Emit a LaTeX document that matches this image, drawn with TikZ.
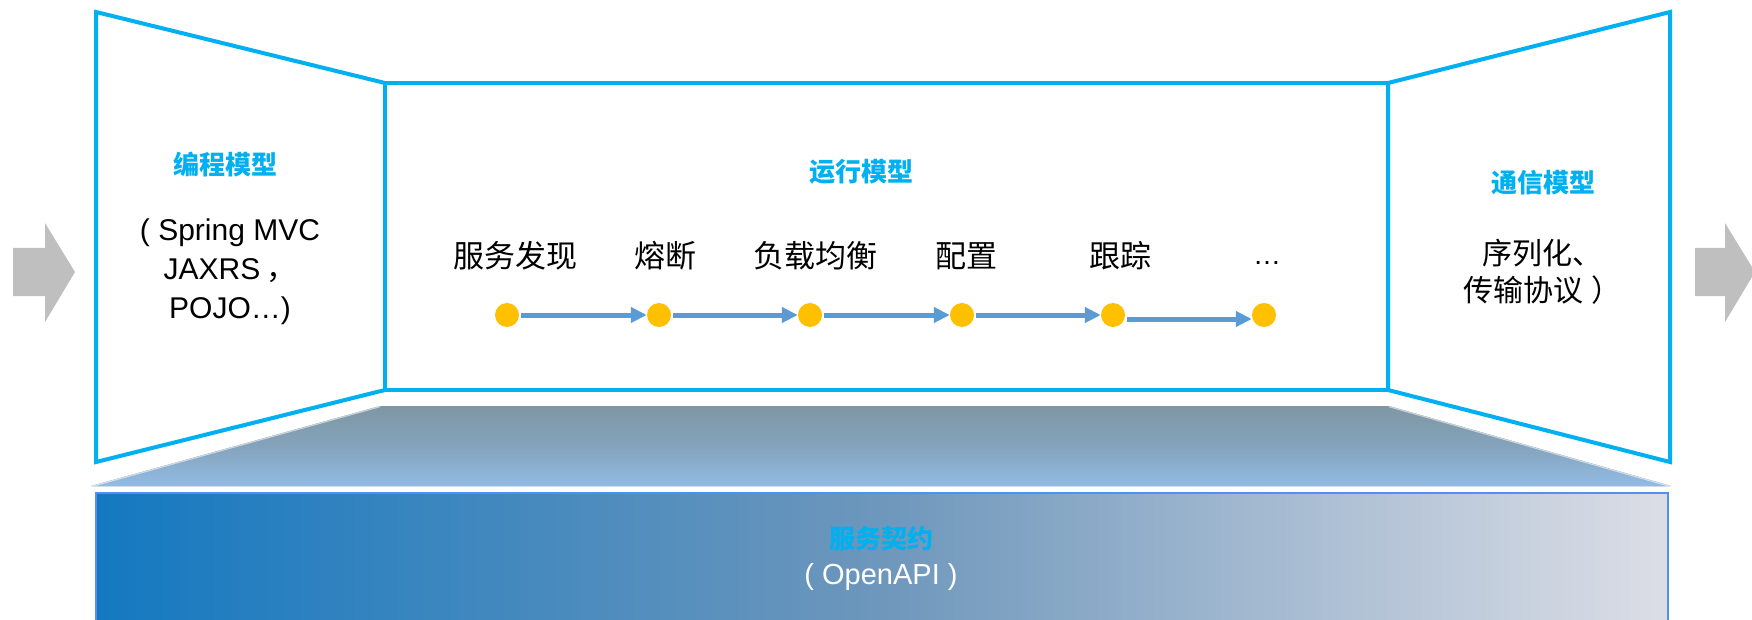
\documentclass[tikz,border=0pt]{standalone}
\usepackage{fontspec}
\setmainfont{Liberation Sans}
\newfontfamily\cjk{Noto Sans CJK SC}
\usetikzlibrary{arrows.meta}
\definecolor{wall}{HTML}{00B0F0}
\definecolor{arrowgray}{HTML}{BFBFBF}
\definecolor{dotc}{HTML}{FFC000}
\definecolor{flowc}{HTML}{5B9BD5}
\definecolor{floortop}{HTML}{7F97A4}
\definecolor{floormid}{HTML}{84A3BC}
\definecolor{floorbot}{HTML}{92BCE4}
\definecolor{boxl}{HTML}{1479C1}
\definecolor{boxm}{HTML}{6E97BC}
\definecolor{boxr}{HTML}{DCDEE6}
\definecolor{boxline}{HTML}{4F90F5}
\tikzset{
  panel/.style={draw=wall, line width=4pt, line join=miter, fill=white},
  title/.style={text=wall, font=\cjk\bfseries\fontsize{26}{30}\selectfont, inner sep=0pt},
  body/.style={text=black, font=\fontsize{30}{39}\selectfont, align=center, inner sep=0pt},
  item/.style={text=black, font=\cjk\fontsize{31}{36}\selectfont, inner sep=0pt},
  dot/.style={circle, fill=dotc, minimum size=24pt, inner sep=0pt},
  flow/.style={draw=flowc, line width=5pt, shorten <=2pt, -{Triangle[length=16pt,width=15pt]}},
  bigarrow/.style={fill=arrowgray},
  gleam/.style={draw=white, line width=2.5pt, opacity=0.55}
}
\begin{document}
\begin{tikzpicture}[x=1pt,y=-1pt]
\useasboundingbox (0,0) rectangle (1752,620);
% side arrows
\fill[bigarrow] (13,248) -- (45,248) -- (45,223) -- (75,272) -- (45,322) -- (45,296) -- (13,296) -- cycle;
\fill[bigarrow] (1695,248) -- (1725,248) -- (1725,223) -- (1755,272) -- (1725,322) -- (1725,296) -- (1695,296) -- cycle;
% floor
\fill[top color=floortop, bottom color=floorbot, middle color=floormid] (380,406) -- (1389,406) -- (1671,486) -- (91,486) -- cycle;
\draw[gleam] (91,486) -- (380,406);
\draw[gleam] (1389,406) -- (1671,486);
% bottom box
\draw[draw=boxline, line width=2pt, left color=boxl, right color=boxr, middle color=boxm] (96,493) rectangle (1668,650);
% panels
\draw[panel] (96,12) -- (385,83) -- (385,390) -- (96,462) -- cycle;
\draw[panel] (1388,83) -- (1670,12) -- (1670,462) -- (1388,390) -- cycle;
\draw[panel] (385,83) rectangle (1388,390);
% left panel text
\node[title] (tl) at (225,165) {编程模型};
\node[body] (bl) at (230,272) {( Spring MVC\\JAXRS\hspace{6pt}{\cjk ，}\\POJO…)};
% right panel text
\node[title] (tr) at (1543,183) {通信模型};
\node[body, font=\cjk\fontsize{30}{37}\selectfont] (br) at (1542,272) {序列化、\\传输协议\hspace{8pt}）};
% center
\node[title] (tc) at (861,172) {运行模型};
\node[item] (l1) at (515,256) {服务发现};
\node[item] (l2) at (665,256) {熔断};
\node[item] (l3) at (815,256) {负载均衡};
\node[item] (l4) at (966,256) {配置};
\node[item] (l5) at (1120,256) {跟踪};
\node[item, font=\fontsize{28}{32}\selectfont] (l6) at (1267,263) {…};
\node[dot] (d1) at (507,315) {};
\node[dot] (d2) at (659,315) {};
\node[dot] (d3) at (810,315) {};
\node[dot] (d4) at (962,315) {};
\node[dot] (d5) at (1113,315) {};
\node[dot] (d6) at (1264,315) {};
\draw[flow] (d1) -- (d2);
\draw[flow] (d2) -- (d3);
\draw[flow] (d3) -- (d4);
\draw[flow] (d4) -- (d5);
\draw[flow] ([yshift=-4pt]d5.east) -- ([yshift=-4pt]d6.west);
% bottom text
\node[title] (tb) at (881,539) {服务契约};
\node[text=white, font=\fontsize{29}{34}\selectfont, inner sep=0pt] (bb) at (881,577) {( OpenAPI )};
\end{tikzpicture}
\end{document}
